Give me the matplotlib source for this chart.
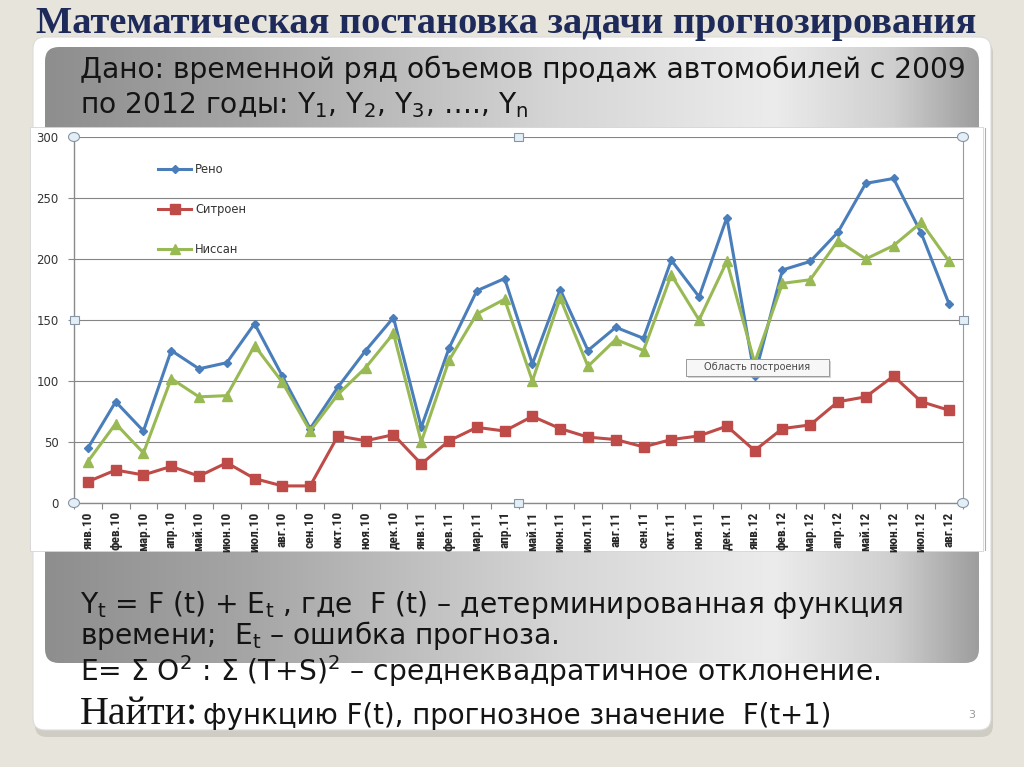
import numpy as np
import matplotlib
matplotlib.use('Agg')
import matplotlib.pyplot as plt
from matplotlib import font_manager as fm
from matplotlib.patches import FancyBboxPatch, Rectangle, Ellipse
from matplotlib.colors import LinearSegmentedColormap
from matplotlib.ticker import FixedLocator

# ---------------- data ----------------
x_labels = ['янв.10', 'фев.10', 'мар.10', 'апр.10', 'май.10', 'июн.10', 'июл.10', 'авг.10',
            'сен.10', 'окт.10', 'ноя.10', 'дек.10',
            'янв.11', 'фев.11', 'мар.11', 'апр.11', 'май.11', 'июн.11', 'июл.11', 'авг.11',
            'сен.11', 'окт.11', 'ноя.11', 'дек.11',
            'янв.12', 'фев.12', 'мар.12', 'апр.12', 'май.12', 'июн.12', 'июл.12', 'авг.12']
reno = [45, 83, 59, 125, 110, 115, 147, 104, 61, 95, 125, 152,
        62, 127, 174, 184, 114, 175, 125, 144, 135, 199, 169, 234,
        104, 191, 198, 222, 262, 266, 221, 163]
citroen = [17.5, 27, 23, 30, 22, 33, 20, 14, 14, 55, 51, 56,
           32, 51, 62, 59, 71, 61, 54, 52, 46, 52, 55, 63,
           43, 61, 64, 83, 87, 104, 83, 76]
nissan = [34, 65, 41, 102, 87, 88, 129, 99, 59, 89, 111, 139,
          50, 117, 155, 167, 100, 168, 112, 134, 125, 187, 150, 198,
          115, 180, 183, 215, 200, 211, 230, 198]
series_names = ['Рено', 'Ситроен', 'Ниссан']
y_ticks = [0, 50, 100, 150, 200, 250, 300]

# ---------------- fonts ----------------
avail = {f.name for f in fm.fontManager.ttflist}
def pick(*names):
    for n in names:
        if n in avail:
            return n
    return 'DejaVu Sans'
SANS = 'DejaVu Sans'
SERIF = pick('Liberation Serif', 'DejaVu Serif')
NARROW = pick('Liberation Sans Narrow', 'Roboto Condensed', 'DejaVu Sans')

W, H = 1024, 767
fig = plt.figure(figsize=(W / 100, H / 100), dpi=100)
fig.patch.set_facecolor('#e7e4db')

bg = fig.add_axes([0, 0, 1, 1], zorder=0)
bg.set_xlim(0, W)
bg.set_ylim(H, 0)
bg.axis('off')

# panel shadow + panel
bg.add_patch(FancyBboxPatch((35, 41), 958, 696, boxstyle='round,pad=0,rounding_size=12',
                            fc='#c9c6bd', ec='none', alpha=0.8))
bg.add_patch(FancyBboxPatch((33, 37), 958, 693, boxstyle='round,pad=0,rounding_size=12',
                            fc='#ffffff', ec='#dcdcdc', lw=0.8))

# gray gradient band
band = FancyBboxPatch((45, 47), 934, 616, boxstyle='round,pad=0,rounding_size=14',
                      fc='none', ec='none')
bg.add_patch(band)
cmap = LinearSegmentedColormap.from_list('band', [
    (0.0, '#8e8e8e'), (0.22, '#a6a6a6'), (0.55, '#d6d6d6'),
    (0.78, '#ececec'), (0.91, '#cfcfcf'), (1.0, '#9e9e9e')])
grad = np.linspace(0, 1, 512)[None, :]
im = bg.imshow(grad, cmap=cmap, extent=[45, 979, 663, 47], aspect='auto',
               interpolation='bilinear', zorder=1)
im.set_clip_path(band)

# chart white area
bg.add_patch(Rectangle((30, 127), 953, 424, fc='white', ec='#d4d4d4', lw=0.6, zorder=2))
bg.plot([985, 985], [128, 550], color='#b0b0b0', lw=0.8, zorder=3)

# ---------------- chart ----------------
ax = fig.add_axes([74 / W, 1 - 503 / H, (963 - 74) / W, 366 / H], zorder=3)
ax.set_facecolor('white')
x = np.arange(len(x_labels))
ax.plot(x, reno, color='#4a7ebb', lw=2.2, marker='D', ms=4.5, mfc='#4a7ebb',
        mec='#4a7ebb', label=series_names[0], zorder=4)
ax.plot(x, citroen, color='#be4b48', lw=2.2, marker='s', ms=6.5, mfc='#be4b48',
        mec='#be4b48', label=series_names[1], zorder=4)
ax.plot(x, nissan, color='#98b954', lw=2.2, marker='^', ms=6.5, mfc='#98b954',
        mec='#98b954', label=series_names[2], zorder=4)

ax.set_xlim(-0.5, len(x_labels) - 0.5)
ax.set_ylim(0, 300)
ax.set_yticks(y_ticks)
ax.grid(axis='y', color='#858585', lw=0.8)
ax.set_axisbelow(True)
for s in ['left', 'bottom']:
    ax.spines[s].set_color('#8a8a8a')
    ax.spines[s].set_linewidth(1.0)
ax.spines['top'].set_visible(False)
ax.spines['right'].set_color('#9a9a9a')
ax.spines['right'].set_linewidth(0.8)

ax.set_xticks(x)
ax.set_xticklabels(x_labels, rotation=90, fontsize=9.6, fontweight='bold',
                   family=NARROW, color='#262626', va='top')
ax.tick_params(axis='x', which='major', length=0, pad=6)
ax.xaxis.set_minor_locator(FixedLocator(np.arange(-0.5, len(x_labels), 1.0)))
ax.tick_params(axis='x', which='minor', length=4, color='#8a8a8a', width=0.8)
ax.tick_params(axis='y', length=4, color='#8a8a8a', width=0.8, pad=7,
               labelsize=8.5, labelcolor='#333333')

leg = ax.legend(loc='upper left', bbox_to_anchor=(0.095, 0.93), frameon=False,
                fontsize=8.3, labelspacing=2.35, handlelength=2.8, handletextpad=0.4,
                borderpad=0, borderaxespad=0)
for t in leg.get_texts():
    t.set_color('#333333')

# ---------------- overlay (selection handles, tooltip) ----------------
ov = fig.add_axes([0, 0, 1, 1], zorder=6)
ov.set_xlim(0, W)
ov.set_ylim(H, 0)
ov.axis('off')
ov.patch.set_alpha(0)
for (cx, cy) in [(74, 137), (963, 137), (74, 503), (963, 503)]:
    ov.add_patch(Ellipse((cx, cy), 11, 9, fc='#e4eef6', ec='#8796a6', lw=0.8))
for (cx, cy) in [(518, 137), (518, 503), (74, 320), (963, 320)]:
    ov.add_patch(Rectangle((cx - 4.5, cy - 4), 9, 8, fc='#e4eef6', ec='#8796a6', lw=0.8))
ov.add_patch(Rectangle((688, 361), 143, 17, fc='#b8b8b8', ec='none', alpha=0.6))
ov.add_patch(Rectangle((686, 359), 143, 17, fc='#f7f7f7', ec='#9a9a9a', lw=0.7))
ov.text(757.5, 367.5, 'Область построения', fontsize=7, color='#4a4a4a',
        ha='center', va='center', family=SANS)

# ---------------- slide texts ----------------
r = fig.canvas.get_renderer()
def fit(t, width):
    w = t.get_window_extent(r).width
    t.set_fontsize(t.get_fontsize() * width / w)

title = bg.text(36, 33, 'Математическая постановка задачи прогнозирования',
                family=SERIF, fontweight='bold', fontsize=26, color='#1d2a5a',
                ha='left', va='baseline', zorder=5)
fit(title, 942)

TXT = '#141414'
l1 = bg.text(80, 78, 'Дано: временной ряд объемов продаж автомобилей с 2009',
             family=SANS, fontsize=20, color=TXT, ha='left', va='baseline', zorder=5)
fit(l1, 885)
fs = l1.get_fontsize()
bg.text(80, 113, r'по 2012 годы: $\mathdefault{Y_1}$, $\mathdefault{Y_2}$, '
        r'$\mathdefault{Y_3}$, …., $\mathdefault{Y_n}$',
        family=SANS, fontsize=fs, color=TXT, ha='left', va='baseline', zorder=5)
bg.text(80, 613, r'$\mathdefault{Y_t}$ = F (t) + $\mathdefault{E_t}$ , где  F (t) – '
        'детерминированная функция',
        family=SANS, fontsize=fs, color=TXT, ha='left', va='baseline', zorder=5)
bg.text(80, 644, r'времени;  $\mathdefault{E_t}$ – ошибка прогноза.',
        family=SANS, fontsize=fs, color=TXT, ha='left', va='baseline', zorder=5)
bg.text(80, 681, r'E= Σ O$^\mathdefault{2}$ : Σ (T+S)$^\mathdefault{2}$ – '
        'среднеквадратичное отклонение.',
        family=SANS, fontsize=fs, color=TXT, ha='left', va='baseline', zorder=5)
n1 = bg.text(80, 724, 'Найти:', family=SERIF, fontsize=22, color=TXT,
             ha='left', va='baseline', zorder=5)
fit(n1, 118)
n2 = bg.text(203, 724, 'функцию F(t), прогнозное значение  F(t+1)', family=SANS,
             fontsize=16, color=TXT, ha='left', va='baseline', zorder=5)
fit(n2, 630)
bg.text(972, 718, '3', family=SANS, fontsize=8, color='#9a9a9a',
        ha='center', va='baseline', zorder=5)

fig.savefig('out.png', dpi=100, facecolor=fig.get_facecolor())
